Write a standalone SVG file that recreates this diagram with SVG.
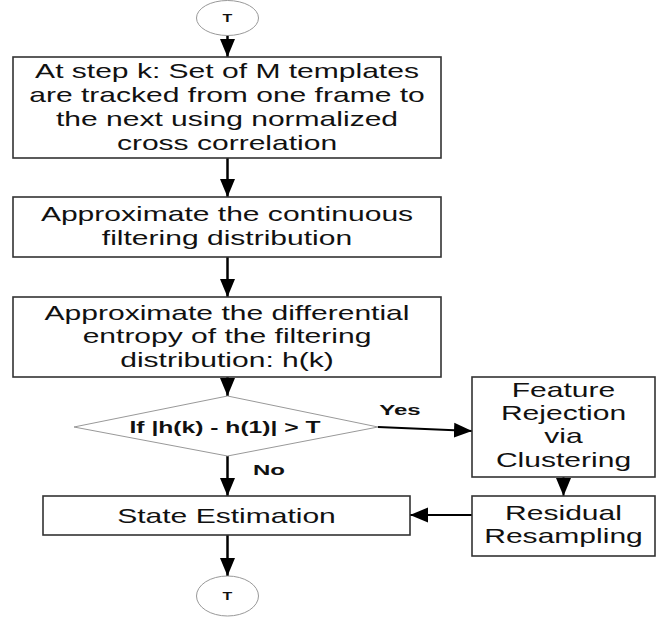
<svg xmlns="http://www.w3.org/2000/svg" width="665" height="617" viewBox="0 0 665 617">
  <style>
    .box { fill: #ffffff; stroke: #333333; stroke-width: 1.6; }
    .thin { fill: #ffffff; stroke: #999999; stroke-width: 1; }
    .t { font-family: "Liberation Sans", Arial, sans-serif; font-size: 21px; fill: #111111; text-anchor: middle; }
    .b { font-family: "Liberation Sans", Arial, sans-serif; font-weight: bold; fill: #111111; text-anchor: middle; }
    .conn { fill: none; stroke: #000000; stroke-width: 2.5; }
    .conn2 { fill: none; stroke: #000000; stroke-width: 2; }
  </style>
  <defs>
    <marker id="ah" markerUnits="userSpaceOnUse" markerWidth="18" markerHeight="16" viewBox="0 0 18 16" refX="18" refY="8" orient="auto">
      <path d="M0,0.5 L18,8 L0,15.5 Z" fill="#000000"/>
    </marker>
  </defs>
  <rect width="665" height="617" fill="#ffffff"/>

  <g id="connectors">
    <line class="conn" x1="227.5" y1="35" x2="227.5" y2="57" marker-end="url(#ah)"/>
    <line class="conn" x1="227.5" y1="158" x2="227.5" y2="197" marker-end="url(#ah)"/>
    <line class="conn" x1="227.5" y1="257" x2="227.5" y2="297" marker-end="url(#ah)"/>
    <line class="conn" x1="227.5" y1="377" x2="227.5" y2="396" marker-end="url(#ah)"/>
    <line class="conn2" x1="378" y1="427" x2="472" y2="431" marker-end="url(#ah)"/>
    <line class="conn" x1="227.5" y1="456" x2="227.5" y2="496" marker-end="url(#ah)"/>
    <line class="conn2" x1="563.5" y1="477" x2="563.5" y2="496" marker-end="url(#ah)"/>
    <line class="conn2" x1="472" y1="515" x2="410" y2="515" marker-end="url(#ah)"/>
    <line class="conn" x1="227.5" y1="535" x2="227.5" y2="576" marker-end="url(#ah)"/>
  </g>

  <g id="start">
    <ellipse class="thin" cx="227.5" cy="18" rx="31" ry="17.5"/>
    <text class="b" font-size="11" transform="translate(227.5 0) scale(1.45 1)" x="0" y="22">T</text>
  </g>

  <g id="track">
    <rect class="box" x="13" y="57" width="428" height="101"/>
    <g transform="translate(227 0) scale(1.43 1)">
      <text class="t" x="0" y="78">At step k: Set of M templates</text>
      <text class="t" x="0" y="102">are tracked from one frame to</text>
      <text class="t" x="0" y="126">the next using normalized</text>
      <text class="t" x="0" y="150">cross correlation</text>
    </g>
  </g>

  <g id="approx-dist">
    <rect class="box" x="13" y="197" width="428" height="60"/>
    <g transform="translate(227 0) scale(1.43 1)">
      <text class="t" x="0" y="221.5">Approximate the continuous</text>
      <text class="t" x="0" y="245.5">filtering distribution</text>
    </g>
  </g>

  <g id="approx-entropy">
    <rect class="box" x="13" y="297" width="428" height="80"/>
    <g transform="translate(227 0) scale(1.43 1)">
      <text class="t" x="0" y="320">Approximate the differential</text>
      <text class="t" x="0" y="343.5">entropy of the filtering</text>
      <text class="t" x="0" y="367">distribution: h(k)</text>
    </g>
  </g>

  <g id="decision">
    <polygon class="thin" points="227.5,396 378,427 227.5,456 74,427"/>
    <text class="b" font-size="17" transform="translate(225 0) scale(1.45 1)" x="0" y="433">If |h(k) - h(1)| &gt; T</text>
  </g>

  <g id="labels">
    <text class="b" font-size="15" transform="translate(400 0) scale(1.6 1)" x="0" y="415">Yes</text>
    <text class="b" font-size="15" transform="translate(269 0) scale(1.6 1)" x="0" y="475">No</text>
  </g>

  <g id="feature-rejection">
    <rect class="box" x="472" y="377" width="183" height="100"/>
    <g transform="translate(563.5 0) scale(1.43 1)">
      <text class="t" x="0" y="397">Feature</text>
      <text class="t" x="0" y="420">Rejection</text>
      <text class="t" x="0" y="443">via</text>
      <text class="t" x="0" y="467">Clustering</text>
    </g>
  </g>

  <g id="residual-resampling">
    <rect class="box" x="472" y="496" width="183" height="60"/>
    <g transform="translate(563.5 0) scale(1.43 1)">
      <text class="t" x="0" y="520">Residual</text>
      <text class="t" x="0" y="543">Resampling</text>
    </g>
  </g>

  <g id="state-estimation">
    <rect class="box" x="43" y="496" width="367" height="39"/>
    <g transform="translate(226.5 0) scale(1.43 1)">
      <text class="t" x="0" y="523">State Estimation</text>
    </g>
  </g>

  <g id="end">
    <ellipse class="thin" cx="227.5" cy="596" rx="31" ry="20"/>
    <text class="b" font-size="11" transform="translate(227.5 0) scale(1.45 1)" x="0" y="600">T</text>
  </g>
</svg>
